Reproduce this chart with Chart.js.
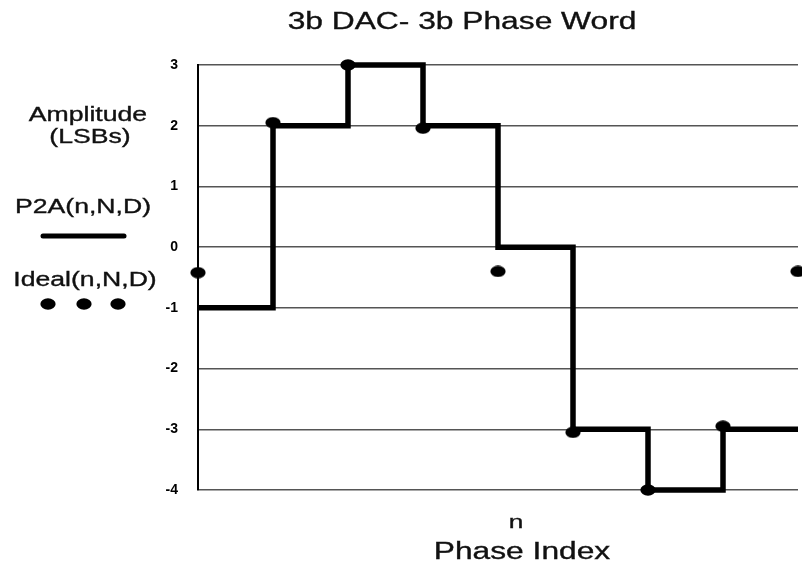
<!DOCTYPE html>
<html>
<head>
<meta charset="utf-8">
<title>3b DAC- 3b Phase Word</title>
<script src="https://cdn.jsdelivr.net/npm/chart.js@4/dist/chart.umd.min.js"></script>
<style>
  html, body { margin: 0; padding: 0; background: #fff; overflow: hidden; }
  #wrap { position: relative; width: 806px; height: 565px; }
</style>
</head>
<body>
<div id="wrap"><canvas id="dacChart"></canvas></div>
<script>
'use strict';

// values
var phaseIndex = [0, 1, 2, 3, 4, 5, 6, 7, 8];
var p2aValues = [-1, 2, 3, 2, 0, -3, -4, -3, -3];
var idealValues = [-0.42, 2.05, 3.0, 1.96, -0.4, -3.05, -4.0, -2.95, -0.4];
var yTicks = [-4, -3, -2, -1, 0, 1, 2, 3];

var FONT = '"Liberation Sans", Arial, sans-serif';
var STRETCH = 1.38; // the source picture is stretched sideways

// slightly wide dot, like the scanned one
var dot = document.createElement('canvas');
dot.width = 16;
dot.height = 12;
(function () {
    var c = dot.getContext('2d');
    c.fillStyle = '#000';
    c.beginPath();
    c.ellipse(8, 6, 7.6, 5.8, 0, 0, Math.PI * 2);
    c.fill();
})();

var toPoints = function (ys) {
    return phaseIndex.map(function (x, i) {
        return {x: x, y: ys[i]};
    });
};

var wideText = function (ctx, text, x, y, size) {
    ctx.save();
    ctx.font = size + 'px ' + FONT;
    ctx.fillStyle = '#111';
    ctx.strokeStyle = '#111';
    ctx.lineWidth = 0.35;
    ctx.textAlign = 'center';
    ctx.textBaseline = 'alphabetic';
    ctx.translate(x, y);
    ctx.scale(STRETCH, 1);
    ctx.fillText(text, 0, 0);
    ctx.strokeText(text, 0, 0); // scan looks a bit heavier
    ctx.restore();
};

// title, axis words and the hand made legend on the left
var sideText = {
    id: 'sideText',
    afterDraw: function (chart) {
        var ctx = chart.ctx;
        wideText(ctx, '3b DAC- 3b Phase Word', 462, 29, 23);
        wideText(ctx, 'n', 516, 528, 19);
        wideText(ctx, 'Phase Index', 522, 559, 23);

        wideText(ctx, 'Amplitude', 88, 121, 19.3);
        wideText(ctx, '(LSBs)', 90, 143, 19.3);
        wideText(ctx, 'P2A(n,N,D)', 83, 213, 19.3);
        wideText(ctx, 'Ideal(n,N,D)', 85, 286, 19.3);

        ctx.save();
        ctx.strokeStyle = '#000';
        ctx.lineWidth = 5;
        ctx.lineCap = 'round';
        ctx.beginPath();
        ctx.moveTo(43, 236);
        ctx.lineTo(124, 236);
        ctx.stroke();
        [48, 84, 118].forEach(function (x) {
            ctx.drawImage(dot, x - dot.width / 2, 304 - dot.height / 2);
        });
        ctx.restore();
    }
};

var ctx = document.getElementById('dacChart').getContext('2d');
var dacChart = new Chart(ctx, {
    type: 'line',
    data: {
        datasets: [{
            label: 'P2A(n,N,D)',
            data: toPoints(p2aValues),
            stepped: 'before',
            borderColor: '#000',
            borderWidth: 5.5,
            borderJoinStyle: 'miter',
            pointRadius: 0,
            fill: false,
            clip: false
        }, {
            label: 'Ideal(n,N,D)',
            data: toPoints(idealValues),
            showLine: false,
            pointStyle: dot,
            pointRadius: 7,
            backgroundColor: '#000',
            clip: false
        }]
    },
    options: {
        responsive: true,
        maintainAspectRatio: false,
        animation: false,
        events: [],
        layout: {padding: {top: 65, bottom: 75, left: 0, right: 0}},
        plugins: {
            legend: {display: false},
            title: {display: false},
            tooltip: {enabled: false}
        },
        scales: {
            x: {
                type: 'linear',
                min: 0,
                max: 8,
                display: false
            },
            y: {
                type: 'linear',
                min: -4,
                max: 3,
                afterBuildTicks: function (scale) {
                    scale.ticks = yTicks.map(function (v) { return {value: v}; });
                },
                afterFit: function (scale) {
                    scale.width = 198;
                },
                grid: {
                    color: '#555',
                    lineWidth: 1.5,
                    drawTicks: false
                },
                border: {display: true, color: '#000', width: 2},
                ticks: {
                    padding: 20,
                    color: '#000',
                    font: {family: FONT, size: 14, weight: 'bold'}
                }
            }
        }
    },
    plugins: [sideText]
});
</script>
</body>
</html>
